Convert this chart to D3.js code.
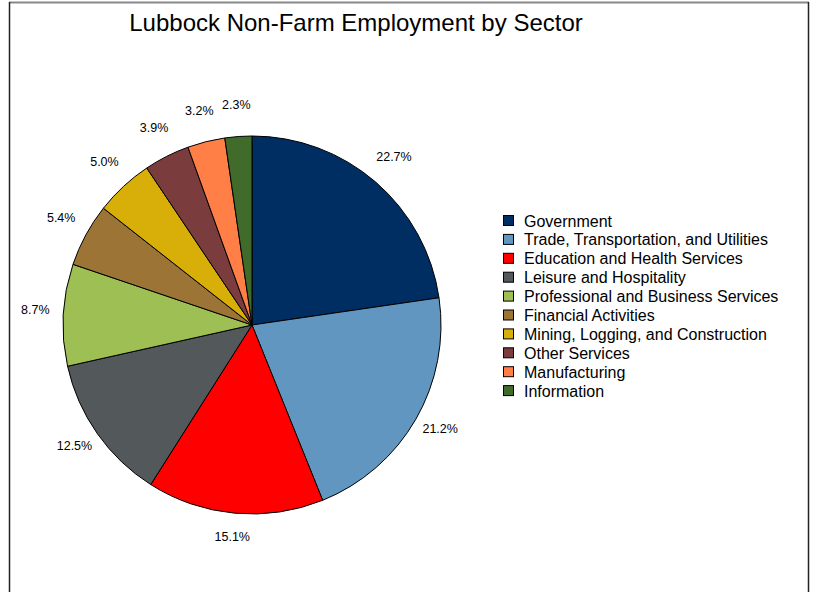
<!DOCTYPE html>
<html>
<head>
<meta charset="utf-8">
<script src="https://cdn.jsdelivr.net/npm/d3@7"></script>
<style>
  body { margin: 0; background: #fff; }
  text { font-family: "Liberation Sans", Arial, sans-serif; }
</style>
</head>
<body>
<script>
// data
const sectors = [
  'Government',
  'Trade, Transportation, and Utilities',
  'Education and Health Services',
  'Leisure and Hospitality',
  'Professional and Business Services',
  'Financial Activities',
  'Mining, Logging, and Construction',
  'Other Services',
  'Manufacturing',
  'Information'
]
const shares = [22.7, 21.2, 15.1, 12.5, 8.7, 5.4, 5.0, 3.9, 3.2, 2.3]
const colors = ['#002D62', '#6196C0', '#FF0000', '#53585B', '#9DBF53',
  '#9C7436', '#D8AE08', '#7B3C3D', '#FF7F47', '#406B2A']

const width = 816
const height = 592
const cx = 252, cy = 325
const radius = 189
const labelRadius = 217

const svg = d3.select('body')
  .append('svg')
  .attr('width', width)
  .attr('height', height)

// frame
svg.append('line').attr('x1', 9).attr('x2', 809).attr('y1', 2.5).attr('y2', 2.5)
  .attr('stroke', '#888').attr('stroke-width', 2)
svg.append('line').attr('x1', 9.5).attr('x2', 9.5).attr('y1', 2).attr('y2', height)
  .attr('stroke', '#222').attr('stroke-width', 1.5)
svg.append('line').attr('x1', 808.5).attr('x2', 808.5).attr('y1', 2).attr('y2', height)
  .attr('stroke', '#222').attr('stroke-width', 1.5)

svg.append('text')
  .attr('x', 356)
  .attr('y', 31)
  .attr('text-anchor', 'middle')
  .attr('font-size', 24)
  .text('Lubbock Non-Farm Employment by Sector')

const data = sectors.map((s, i) => ({ name: s, value: shares[i], color: colors[i] }))

const pie = d3.pie().sort(null).value(d => d.value)
const arc = d3.arc().innerRadius(0).outerRadius(radius)
const labelArc = d3.arc().innerRadius(labelRadius).outerRadius(labelRadius)

const g = svg.append('g').attr('transform', `translate(${cx}, ${cy})`)

const arcs = pie(data)

g.selectAll('path')
  .data(arcs)
  .enter()
  .append('path')
    .attr('d', arc)
    .attr('fill', d => d.data.color)
    .attr('stroke', '#000')
    .attr('stroke-width', 1)

// labels sit slightly above the pie centre
g.selectAll('text.lbl')
  .data(arcs)
  .enter()
  .append('text')
    .attr('class', 'lbl')
    .attr('transform', d => {
      const [x, y] = labelArc.centroid(d)
      return `translate(${x}, ${y - 4})`
    })
    .attr('text-anchor', 'middle')
    .attr('dy', '0.35em')
    .attr('font-size', 12.5)
    .text(d => d3.format('.1f')(d.data.value) + '%')

// legend
const legend = svg.append('g').attr('transform', 'translate(503, 215)')
const rowH = 18.9

const rows = legend.selectAll('g')
  .data(data)
  .enter()
  .append('g')
    .attr('transform', (d, i) => `translate(0, ${i * rowH})`)

rows.append('rect')
  .attr('x', 0.5)
  .attr('y', 0.5)
  .attr('width', 10)
  .attr('height', 10)
  .attr('fill', d => d.color)
  .attr('stroke', '#000')

rows.append('text')
  .attr('x', 21)
  .attr('y', 11.5)
  .attr('font-size', 16)
  .text(d => d.name)
</script>
</body>
</html>
